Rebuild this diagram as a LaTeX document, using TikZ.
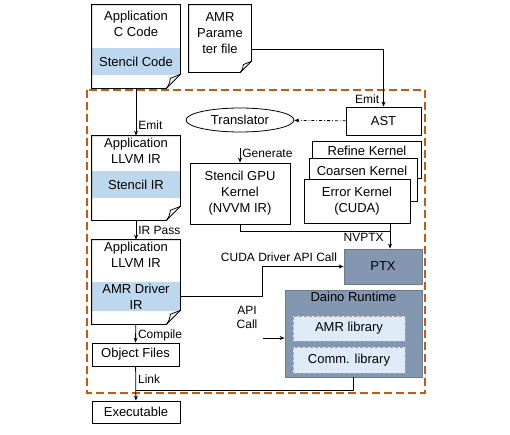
\documentclass[tikz,border=0pt]{standalone}
\usepackage{fontspec}
\setmainfont{Liberation Sans}
\usepackage{tikz}
\usetikzlibrary{quotes}
\usetikzlibrary{shapes.geometric}
\usetikzlibrary{arrows.meta}

\definecolor{bandblue}{HTML}{BDD7EE}
\definecolor{libblue}{HTML}{DEEBF7}
\definecolor{rtgrey}{HTML}{8497B0}
\definecolor{rtline}{HTML}{6E7B8C}
\definecolor{frameorange}{HTML}{C55A11}

\begin{document}
\begin{tikzpicture}[x=1pt, y=-1pt, line width=0.8pt, >={Stealth[length=5pt,width=4pt]},
    every node/.style={font=\fontsize{13}{16}\selectfont, align=center},
    every edge quotes/.style={font=\fontsize{12}{14}\selectfont, inner sep=2pt},
    lbl/.style={font=\fontsize{12}{14}\selectfont, inner sep=0pt},
    docbox/.style={minimum width=88pt, inner sep=0pt},
    band/.style={fill=bandblue, minimum width=88pt, inner sep=0pt},
    plainbox/.style={draw, fill=white, inner sep=0pt},
    rtbox/.style={draw=rtline, fill=rtgrey, inner sep=0pt},
    libbox/.style={draw=gray!70, densely dashed, fill=libblue, inner sep=0pt}]

        \useasboundingbox (0,0) rectangle (510,434);

        % compiler frame
        \draw[frameorange, line width=2pt, dash pattern=on 8pt off 4pt] (87,90) rectangle (425,393);

        % documents
        \node[docbox, minimum height=83pt]             (ccode) at (136, 46.5)     {};
        \node[band, minimum height=27pt]               (stcode) at (136, 61.5)    {Stencil Code};
        \node[inner sep=0pt]                           (ccodetxt) at (136, 23.5)  {Application\\C Code};

        \node[docbox, minimum width=62pt, minimum height=67pt] (param) at (220, 38.5) {};
        \node[inner sep=0pt]                           (paramtxt) at (220, 33.5)  {AMR\\Parame\\ter file};

        \node[docbox, minimum height=84pt]             (stir) at (136, 178)       {};
        \node[band, minimum height=27pt]               (stirband) at (136, 184.5) {Stencil IR};
        \node[inner sep=0pt]                           (stirtxt) at (136, 150.5)  {Application\\LLVM IR};

        \node[docbox, minimum height=84pt]             (drvir) at (136, 282)      {};
        \node[band, minimum height=29pt]               (drvband) at (136, 296.5)  {AMR Driver\\IR};
        \node[inner sep=0pt]                           (drvtxt) at (136, 254.5)   {Application\\LLVM IR};

        \foreach \dn/\fs in {ccode/14, param/11, stir/14, drvir/14} {
            \draw (\dn.north west) -- (\dn.north east) -- ([yshift=\fs pt]\dn.south east)
                -- ([xshift=-\fs pt]\dn.south east) -- (\dn.south west) -- cycle;
            \draw ([xshift=-\fs pt]\dn.south east) to[bend right=15]
                ([xshift={-0.72*\fs pt}, yshift={0.72*\fs pt}]\dn.south east) -- ([yshift=\fs pt]\dn.south east);
        }

        % plain boxes
        \node[plainbox, minimum width=87pt, minimum height=23pt]  (objf) at (135.5, 354.5) {Object Files};
        \node[plainbox, minimum width=88pt, minimum height=22pt]  (exe) at (136, 412)       {Executable};
        \node[plainbox, minimum width=75pt, minimum height=28pt]  (ast) at (383.5, 121)     {AST};
        \node[ellipse, draw, minimum width=108pt, minimum height=24pt, inner sep=0pt] (trans) at (240, 120) {Translator};
        \node[plainbox, minimum width=100pt, minimum height=61pt] (gpuk) at (240, 193.5)    {Stencil GPU\\Kernel\\(NVVM IR)};

        % kernel stack
        \node[plainbox, minimum width=109pt, minimum height=37pt] (refine) at (366.5, 159.5) {};
        \node                                                     (refinetxt) at (367, 151)  {Refine Kernel};
        \node[plainbox, minimum width=108pt, minimum height=43pt] (coarsen) at (363, 179.5)  {};
        \node                                                     (coarsentxt) at (362, 171) {Coarsen Kernel};
        \node[plainbox, minimum width=106pt, minimum height=44pt] (err) at (357, 201)        {Error Kernel\\(CUDA)};

        % runtime
        \node[rtbox, minimum width=78pt, minimum height=35pt]     (ptx) at (383, 266.5)      {PTX};
        \node[rtbox, minimum width=137pt, minimum height=87pt]    (daino) at (353.5, 333.5)  {};
        \node[anchor=north, inner sep=2pt]                        (dainottl) at (daino.north) {Daino Runtime};
        \node[libbox, minimum width=112pt, minimum height=25pt]   (amrlib) at (349, 328.5)   {AMR library};
        \node[libbox, minimum width=112pt, minimum height=26pt]   (commlib) at (349, 360)    {Comm. library};

        % connectors
        \draw (ccode) edge["Emit" {right, pos=.77}, ->]    (stir);
        \draw (stir) edge["IR Pass" {right, pos=.5}, ->]   (drvir);
        \draw (drvir) edge["Compile" {right, pos=.58}, ->] (objf);
        \draw (objf) edge["Link" {right, pos=.37}, ->]     (exe);

        \draw[->] ([yshift=-10.5pt]param.east) -| (ast.north) node[lbl, pos=.94, left=4pt] {Emit};
        \draw[->, dash dot] (ast) -- (trans);

        \coordinate (gen) at (240, 148);
        \draw (gen) edge["Generate" {right, pos=.4}, ->] (gpuk);

        \coordinate (nvj) at (390, 231);
        \draw (err.south -| nvj) -- (nvj);
        \draw[->] (gpuk.south) |- (nvj) -- (nvj |- ptx.north) node[lbl, pos=.35, left=6pt] {NVPTX};

        \coordinate (cj) at (262, 296);
        \draw[->] (drvir.east |- cj) -- (cj) |- (ptx);
        \node[lbl] (cudalbl) at (279, 257) {CUDA Driver API Call};

        \coordinate (apic) at (263, 338);
        \draw (apic) edge[->] (daino.west |- apic);
        \node[lbl] (apilbl) at (247, 317) {API\\Call};

        \coordinate (lnk) at (136, 390);
        \draw (daino.south) |- (lnk);
      \end{tikzpicture}
\end{document}
